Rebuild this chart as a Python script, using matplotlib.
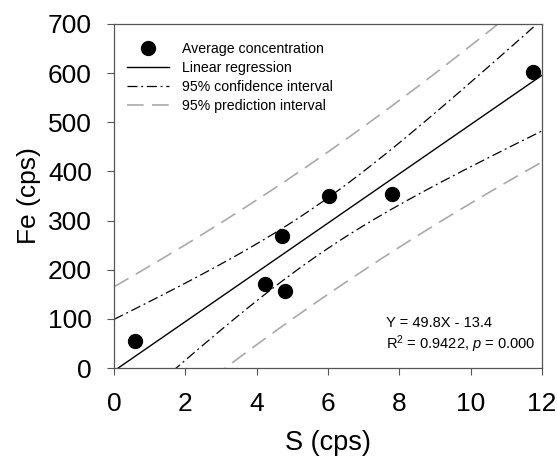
import numpy as np
import matplotlib
matplotlib.use("Agg")
import matplotlib.pyplot as plt

plt.rcParams['font.family'] = ['Liberation Sans', 'DejaVu Sans']
plt.rcParams['mathtext.fontset'] = 'custom'
plt.rcParams['mathtext.rm'] = 'Liberation Sans'
plt.rcParams['mathtext.it'] = 'Liberation Sans:italic'

# Average concentration
s_cps = [0.6, 4.23, 4.71, 4.79, 6.03, 7.79, 11.75]
fe_cps = [55, 171, 269, 157, 350, 354, 603]

x_ticks = [0, 2, 4, 6, 8, 10, 12]
y_ticks = [0, 100, 200, 300, 400, 500, 600, 700]

eq_text = "Y = 49.8X - 13.4"
r2_text = r"R$^2$ = 0.9422, $\it{p}$ = 0.000"

x = np.asarray(s_cps)
y = np.asarray(fe_cps)
n = x.size

# Linear fit and 95% bands (t(0.975, n-2) for n=7)
slope, icpt = np.polyfit(x, y, 1)
resid = y - (slope * x + icpt)
se = np.sqrt(np.sum(resid ** 2) / (n - 2))
t_val = 2.5706
sxx = np.sum((x - x.mean()) ** 2)

xx = np.linspace(0, 12, 300)
yy = slope * xx + icpt
ci = t_val * se * np.sqrt(1 / n + (xx - x.mean()) ** 2 / sxx)
pi = t_val * se * np.sqrt(1 + 1 / n + (xx - x.mean()) ** 2 / sxx)

fig = plt.figure(figsize=(5.57, 4.58), dpi=100)
ax = fig.add_axes([0.2047, 0.1965, 0.7683, 0.7511])

ax.plot(x, y, 'o', color='black', markersize=10, label='Average concentration', zorder=5)
ax.plot(xx, yy, color='black', lw=1.0, label='Linear regression')
ax.plot(xx, yy + ci, color='black', lw=0.9, linestyle=(0, (8, 3, 1.5, 3)),
        label='95% confidence interval')
ax.plot(xx, yy - ci, color='black', lw=0.9, linestyle=(0, (8, 3, 1.5, 3)))
ax.plot(xx, yy + pi, color='#aaaaaa', lw=1.2, linestyle=(0, (10, 5)),
        label='95% prediction interval')
ax.plot(xx, yy - pi, color='#aaaaaa', lw=1.2, linestyle=(0, (10, 5)))

ax.set_xlim(0, 12)
ax.set_ylim(0, 700)
ax.set_xticks(x_ticks)
ax.set_yticks(y_ticks)
ax.tick_params(direction='out', length=5, width=0.8, labelsize=19, color='#555555')
ax.tick_params(axis='x', pad=12)
ax.tick_params(axis='y', pad=11)
for sp in ax.spines.values():
    sp.set_color('#555555')
    sp.set_linewidth(0.9)

ax.set_xlabel('S (cps)', fontsize=19.5, labelpad=10)
ax.set_ylabel('Fe (cps)', fontsize=19, labelpad=5)

ax.legend(loc='upper left', frameon=False, fontsize=10.2, handlelength=3.0,
          handletextpad=0.9, labelspacing=0.35, borderaxespad=0.5,
          bbox_to_anchor=(0.0, 0.985))

ax.text(0.635, 0.118, eq_text, transform=ax.transAxes, fontsize=10.5)
ax.text(0.635, 0.055, r2_text, transform=ax.transAxes, fontsize=10.5)

fig.savefig('out.png', dpi=100)
